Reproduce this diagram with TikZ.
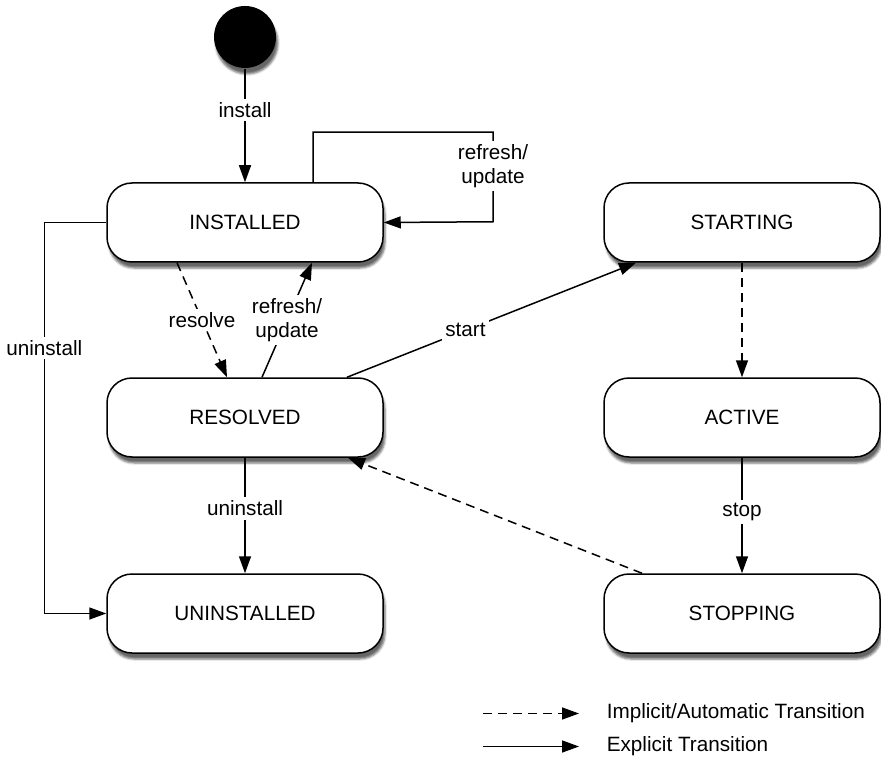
\documentclass[tikz,border=0pt]{standalone}
\usepackage{fontspec}
\setmainfont{Liberation Sans}
\usetikzlibrary{arrows.meta,shadows.blur}

\tikzset{
  state/.style={draw,line width=1.5pt,rounded corners=25pt,fill=white,
    minimum width=276pt,minimum height=79pt,
    blur shadow={shadow xshift=2pt,shadow yshift=-6pt,shadow opacity=60}},
  lbl/.style={fill=white,inner sep=3.5pt,align=center},
  implicit/.style={dash pattern=on 9pt off 6pt}
}

\begin{document}
\begin{tikzpicture}[line cap=butt,line join=miter,>={Triangle[length=17pt,width=12pt]},
  x=1pt,y=-1pt,line width=1.5pt,font=\fontsize{20.7}{24}\selectfont]
\useasboundingbox (0,0) rectangle (881,762);
% states
\node[circle,fill=black,minimum size=62pt,
  blur shadow={shadow xshift=2pt,shadow yshift=-6pt,shadow opacity=60}] (init) at (245,37) {};
\node[state] (installed) at (245,222.5) {INSTALLED};
\node[state] (resolved) at (245,417.5) {RESOLVED};
\node[state] (uninstalled) at (245,613.5) {UNINSTALLED};
\node[state] (starting) at (742,222.5) {STARTING};
\node[state] (active) at (742,417.5) {ACTIVE};
\node[state] (stopping) at (742,613.5) {STOPPING};
% transitions
\draw[->] (init) -- node[lbl,pos=0.36] {install} (installed);
\draw[->] ([xshift=68pt]installed.north) -- ++(0,-50) -| node[lbl,pos=0.69] {refresh/\\update} ++(180,89.5) -- (installed.east);
\draw[->] (installed.west) -- ++(-62,0) |- node[lbl,pos=0.16] {uninstall} (uninstalled.west);
\draw[->,implicit] ([xshift=-68pt]installed.south) -- node[lbl] {resolve} ([xshift=-18pt]resolved.north);
\draw[->] ([xshift=17pt]resolved.north) -- node[lbl] {refresh/\\update} ([xshift=67pt]installed.south);
\draw[->] ([xshift=102pt]resolved.north) -- node[lbl,pos=0.41] {start} ([xshift=-106pt]starting.south);
\draw[->,implicit] (starting) -- (active);
\draw[->] (active) -- node[lbl,pos=0.47] {stop} (stopping);
\draw[->,implicit] ([xshift=-100pt]stopping.north) -- ([xshift=103pt]resolved.south);
\draw[->] (resolved) -- node[lbl,pos=0.44] {uninstall} (uninstalled);
% legend
\coordinate (implA) at (483,713.5);
\coordinate (implB) at (579,713.5);
\coordinate (explA) at (483,746.5);
\coordinate (explB) at (579,746.5);
\draw[->,implicit] (implA) -- (implB);
\draw[->] (explA) -- (explB);
\node[anchor=west,inner sep=0pt] (impltext) at (606,713.5) {Implicit/Automatic Transition};
\node[anchor=west,inner sep=0pt] (expltext) at (606,746.5) {Explicit Transition};
\end{tikzpicture}
\end{document}
